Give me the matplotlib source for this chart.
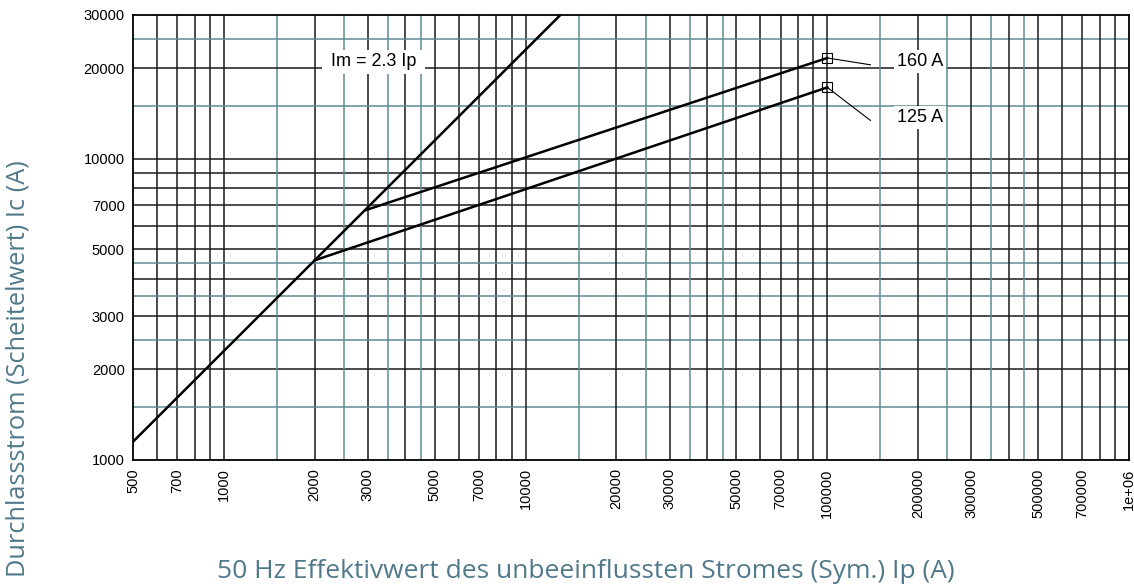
import matplotlib
matplotlib.use('Agg')
import matplotlib.pyplot as plt

# Curve data (Ip in A, Ic in A)
im_ip = [500, 13000]
im_ic = [1150, 29900]

ip_160 = [2950, 100000]
ic_160 = [6750, 21600]

ip_125 = [2000, 100000]
ic_125 = [4600, 17250]

# labels and their leader end points
labels = ['160 A', '125 A']
label_ip = [170000, 170000]
label_ic = [21000, 13700]
leader_ip = [139000, 139000]
leader_ic = [20500, 13400]

xticks = [500, 700, 1000, 2000, 3000, 5000, 7000, 10000, 20000, 30000,
          50000, 70000, 100000, 200000, 300000, 500000, 700000, 1000000]
xtick_labels = ['500', '700', '1000', '2000', '3000', '5000', '7000', '10000',
                '20000', '30000', '50000', '70000', '100000', '200000',
                '300000', '500000', '700000', '1e+06']
yticks = [1000, 2000, 3000, 5000, 7000, 10000, 20000, 30000]
ytick_labels = ['1000', '2000', '3000', '5000', '7000', '10000', '20000', '30000']

teal = '#5e8a92'
label_col = '#50798a'
plt.rcParams['font.family'] = ['Liberation Sans', 'DejaVu Sans']

fig = plt.figure(figsize=(11.34, 5.85), dpi=100)
ax = fig.add_axes([0.1173, 0.2137, 0.8783, 0.7607])
ax.set_xscale('log')
ax.set_yscale('log')
ax.set_xlim(500, 1e6)
ax.set_ylim(1000, 30000)

# grid: black at 1..9 x 10^k, teal at 1.5/2.5/3.5/4.5 x 10^k
for dec in [100, 1000, 10000, 100000]:
    for m in range(1, 10):
        v = m * dec
        if 500 < v < 1e6:
            ax.axvline(v, color='#1a1a1a', lw=1.1, zorder=1)
        if 1000 < v < 30000:
            ax.axhline(v, color='#1a1a1a', lw=1.1, zorder=1)
    for m in [1.5, 2.5, 3.5, 4.5]:
        v = m * dec
        if 500 < v < 1e6:
            ax.axvline(v, color=teal, lw=1.1, zorder=1)
        if 1000 < v < 30000:
            ax.axhline(v, color=teal, lw=1.1, zorder=1)

ax.plot(im_ip, im_ic, color='black', lw=1.8, zorder=3)
ax.plot(ip_160, ic_160, color='black', lw=1.8, zorder=3)
ax.plot(ip_125, ic_125, color='black', lw=1.8, zorder=3)
ax.plot([ip_160[-1], ip_125[-1]], [ic_160[-1], ic_125[-1]], ls='none',
        marker='s', ms=7, mfc='none', mec='black', mew=0.8, zorder=4)

ends_ip = [ip_160[-1], ip_125[-1]]
ends_ic = [ic_160[-1], ic_125[-1]]
for i in range(len(labels)):
    ax.plot([ends_ip[i], leader_ip[i]], [ends_ic[i], leader_ic[i]],
            color='black', lw=0.8, zorder=3)
    ax.text(label_ip[i], label_ic[i], labels[i], fontsize=13, ha='left',
            va='center', zorder=5,
            bbox=dict(boxstyle='square,pad=0.15', fc='white', ec='none'))

ax.text(2180, 21000, ' Im = 2.3 Ip ', fontsize=13, ha='left', va='center',
        zorder=5, bbox=dict(boxstyle='square,pad=0.2', fc='white', ec='none'))

ax.set_xticks(xticks)
ax.set_xticklabels(xtick_labels, rotation=90, fontsize=10.5)
ax.set_yticks(yticks)
ax.set_yticklabels(ytick_labels, fontsize=10.5)
ax.minorticks_off()
ax.tick_params(length=0, pad=6)
for s in ax.spines.values():
    s.set_linewidth(1.3)
    s.set_color('black')
    s.set_zorder(6)

fig.text(0.517, 0.012, '50 Hz Effektivwert des unbeeinflussten Stromes (Sym.) Ip (A)',
         ha='center', va='baseline', color=label_col, fontsize=19,
         family='Open Sans')
fig.text(0.016, 0.37, 'Durchlassstrom (Scheitelwert) Ic (A)', rotation=90,
         ha='center', va='center', color=label_col, fontsize=18.3,
         family='Open Sans')

fig.savefig('out.png', dpi=100)
